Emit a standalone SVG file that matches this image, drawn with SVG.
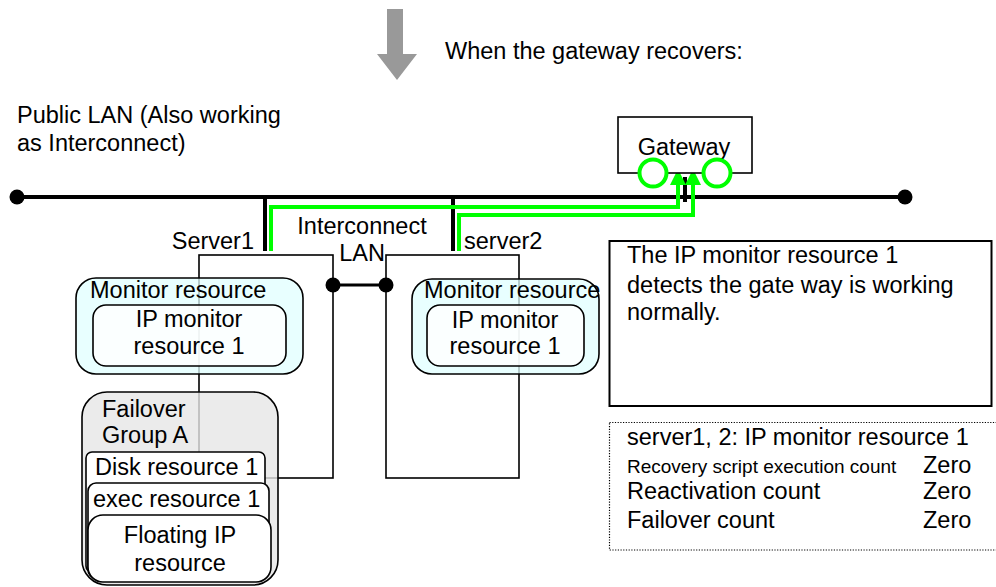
<svg xmlns="http://www.w3.org/2000/svg" width="996" height="587" viewBox="0 0 996 587">
<defs>
<style>
text{font-family:"Liberation Sans",Arial,sans-serif;font-size:23.5px;fill:#000}
.mid{text-anchor:middle}
.small{font-size:19px}
.thin{fill:none;stroke:#000;stroke-width:1.6}
.lan{fill:none;stroke:#000;stroke-width:4}
.green{fill:none;stroke:#00FF00;stroke-width:4}
.dot{fill:#000}
.box{stroke:#000;stroke-width:1.6}
</style>
<marker id="garrow" viewBox="0 0 16 16" refX="0" refY="8" markerWidth="16" markerHeight="16" markerUnits="userSpaceOnUse" orient="auto">
<path d="M0,0 L16,8 L0,16 z" fill="#00FF00"/>
</marker>
</defs>
<rect width="996" height="587" fill="#fff"/>

<g id="step-arrow">
<polygon points="387,9 403,9 403,54 417,54 397,80 377,54 387,54" fill="#999999"/>
<text x="445" y="59">When the gateway recovers:</text>
</g>

<g id="public-lan-label">
<text x="17" y="123">Public LAN (Also working</text>
<text x="17" y="151">as Interconnect)</text>
</g>

<g id="server1">
<rect x="199" y="255" width="134" height="223" class="thin"/>
<text x="254" y="249" text-anchor="end">Server1</text>
</g>

<g id="server2">
<rect x="386" y="255" width="133" height="223" class="thin"/>
<text x="464" y="249">server2</text>
</g>

<g id="connectors">
<line x1="17" y1="197" x2="905" y2="197" class="lan"/>
<circle cx="17" cy="197" r="7.5" class="dot"/>
<circle cx="905" cy="197" r="7.5" class="dot"/>
<line x1="265" y1="197" x2="265" y2="251" class="lan"/>
<line x1="453" y1="197" x2="453" y2="251" class="lan"/>
<line x1="685" y1="177" x2="685" y2="202" class="lan"/>
<line x1="333" y1="285" x2="386" y2="285" stroke="#000" stroke-width="3"/>
<circle cx="333" cy="285" r="7.5" class="dot"/>
<circle cx="386" cy="285" r="7.5" class="dot"/>
<path d="M271,251 V207 H678 V185" class="green" marker-end="url(#garrow)"/>
<path d="M459,251 V215 H693 V185" class="green" marker-end="url(#garrow)"/>
</g>

<g id="interconnect-label">
<text x="362" y="234" class="mid">Interconnect</text>
<text x="362" y="261" class="mid">LAN</text>
</g>

<g id="gateway">
<rect x="618" y="117" width="134" height="56" fill="#fff" class="box"/>
<text x="684" y="155" class="mid">Gateway</text>
<circle cx="653" cy="173" r="13.5" fill="#fff" stroke="#00FF00" stroke-width="4"/>
<circle cx="717" cy="173" r="13.5" fill="#fff" stroke="#00FF00" stroke-width="4"/>
</g>

<g id="monitor-resource-1">
<rect x="76" y="278" width="227" height="96" rx="20" fill="#E0FFFF" fill-opacity="0.75" class="box"/>
<text x="90" y="298">Monitor resource</text>
</g>
<g id="ip-monitor-1">
<rect x="93" y="305" width="193" height="61" rx="13" fill="#fff" fill-opacity="0.8" class="box"/>
<text x="189" y="327" class="mid">IP monitor</text>
<text x="189" y="354" class="mid">resource 1</text>
</g>

<g id="monitor-resource-2">
<rect x="412" y="279" width="187" height="95" rx="20" fill="#E0FFFF" fill-opacity="0.75" class="box"/>
<text x="424" y="298">Monitor resource</text>
</g>
<g id="ip-monitor-2">
<rect x="427" y="305" width="157" height="61" rx="13" fill="#fff" fill-opacity="0.8" class="box"/>
<text x="505" y="328" class="mid">IP monitor</text>
<text x="505" y="354" class="mid">resource 1</text>
</g>

<g id="failover-group-a">
<rect x="82" y="392" width="196" height="193" rx="25" fill="#E6E6E6" fill-opacity="0.8" class="box"/>
<text x="102" y="417">Failover</text>
<text x="102" y="443">Group A</text>
</g>
<g id="disk-resource-1">
<rect x="86" y="452" width="179" height="120" rx="6" fill="#fff" class="box"/>
<text x="95" y="475">Disk resource 1</text>
</g>
<g id="exec-resource-1">
<rect x="88" y="483" width="181" height="95" rx="8" fill="#fff" class="box"/>
<text x="93" y="507">exec resource 1</text>
</g>
<g id="floating-ip-resource">
<rect x="88" y="515" width="183" height="67" rx="15" fill="#fff" class="box"/>
<text x="180" y="543" class="mid">Floating IP</text>
<text x="180" y="571" class="mid">resource</text>
</g>

<g id="description">
<rect x="609.5" y="241" width="382" height="165" fill="#fff" stroke="#000" stroke-width="2"/>
<text x="627" y="263">The IP monitor resource 1</text>
<text x="627" y="293">detects the gate way is working</text>
<text x="627" y="320">normally.</text>
</g>

<g id="counters">
<rect x="609.5" y="422.5" width="400" height="127.5" fill="none" stroke="#000" stroke-width="1.2" stroke-dasharray="1.2 1.5"/>
<text x="627" y="445">server1, 2: IP monitor resource 1</text>
<text x="627" y="473" class="small">Recovery script execution count</text>
<text x="923" y="473">Zero</text>
<text x="627" y="499">Reactivation count</text>
<text x="923" y="499">Zero</text>
<text x="627" y="528">Failover count</text>
<text x="923" y="528">Zero</text>
</g>
</svg>
